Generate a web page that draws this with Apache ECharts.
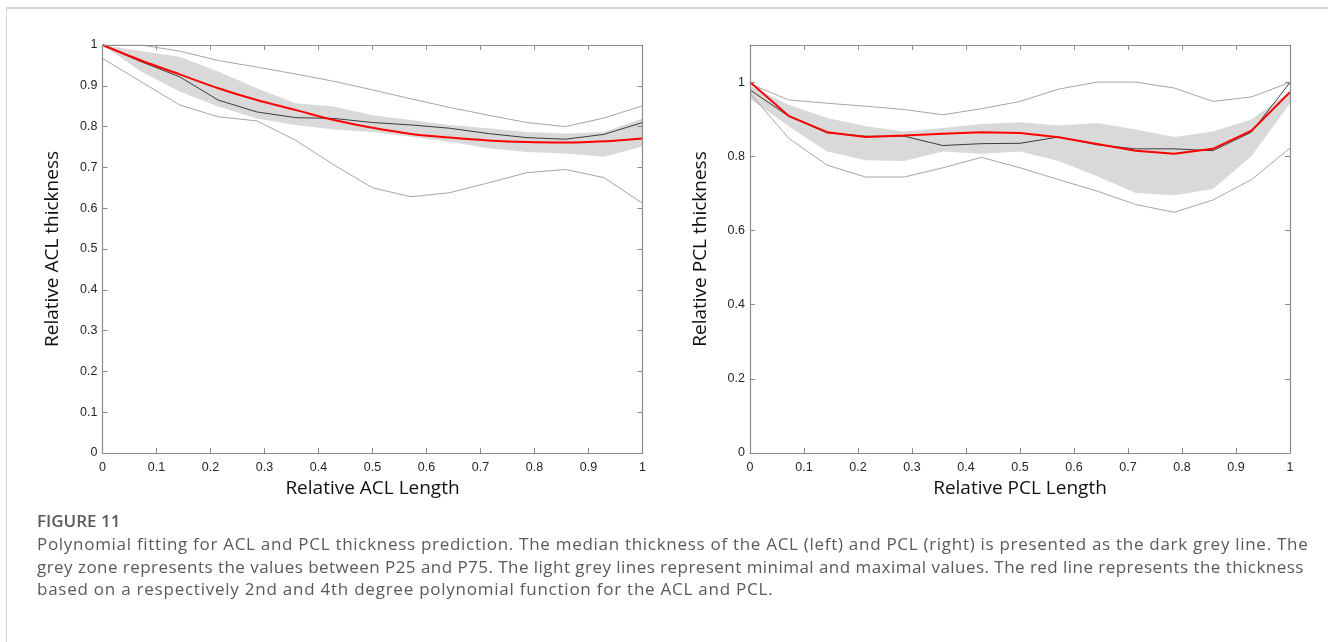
<html lang="en">
<head>
<meta charset="UTF-8">
<title>Figure 11</title>
<style>
    html, body { margin: 0; padding: 0; width: 1328px; height: 642px; background: #fff; overflow: hidden; }
    #frame { position: absolute; left: 6px; top: 7px; width: 1322px; height: 635px; border-top: 2px solid #d6d6d6; border-left: 1px solid #d6d6d6; }
    #container { position: absolute; left: 0; top: 0; width: 1328px; height: 642px; }
    #caption { position: absolute; left: 37px; top: 509px; font-family: "Open Sans", sans-serif; color: #5a5a5a; }
    #caption .fig { font-size: 17px; font-weight: 600; line-height: 24px; }
    #caption .txt { font-size: 17px; line-height: 22.5px; white-space: nowrap; }
    #caption .txt span { display: block; }
</style>
</head>
<body>
<div id="frame"></div>
<div id="container"></div>
<div id="caption">
    <div class="fig">FIGURE 11</div>
    <div class="txt">
        <span style="letter-spacing: 0.71px">Polynomial fitting for ACL and PCL thickness prediction. The median thickness of the ACL (left) and PCL (right) is presented as the dark grey line. The</span>
        <span style="letter-spacing: 0.46px">grey zone represents the values between P25 and P75. The light grey lines represent minimal and maximal values. The red line represents the thickness</span>
        <span style="letter-spacing: 0.76px">based on a respectively 2nd and 4th degree polynomial function for the ACL and PCL.</span>
    </div>
</div>
<script src="https://cdn.jsdelivr.net/npm/echarts@6/dist/echarts.min.js"></script>
<script>
    // relative length positions (15 sampling points)
    var xPos = [0, 0.0714, 0.1429, 0.2143, 0.2857, 0.3571, 0.4286, 0.5, 0.5714, 0.6429, 0.7143, 0.7857, 0.8571, 0.9286, 1];

    // ACL (left)
    var aclMax = [1.0, 1.0, 0.985, 0.962, 0.946, 0.929, 0.911, 0.89, 0.868, 0.847, 0.828, 0.81, 0.8, 0.821, 0.851];
    var aclMin = [0.967, 0.91, 0.853, 0.824, 0.814, 0.767, 0.706, 0.65, 0.628, 0.638, 0.662, 0.687, 0.695, 0.675, 0.612];
    var aclMed = [1.0, 0.959, 0.922, 0.865, 0.836, 0.822, 0.82, 0.81, 0.804, 0.796, 0.783, 0.773, 0.769, 0.781, 0.81];
    var aclP75 = [1.0, 0.985, 0.971, 0.935, 0.894, 0.857, 0.849, 0.828, 0.816, 0.804, 0.796, 0.787, 0.783, 0.787, 0.82];
    var aclP25 = [1.0, 0.935, 0.886, 0.849, 0.82, 0.804, 0.793, 0.787, 0.775, 0.763, 0.747, 0.738, 0.734, 0.726, 0.751];
    var aclFit = [1.0, 0.962, 0.928, 0.894, 0.865, 0.841, 0.816, 0.797, 0.782, 0.773, 0.766, 0.762, 0.761, 0.764, 0.771];

    // PCL (right)
    var pclMax = [0.995, 0.952, 0.943, 0.935, 0.926, 0.912, 0.928, 0.948, 0.981, 1.0, 1.0, 0.984, 0.948, 0.96, 0.999];
    var pclMin = [0.97, 0.849, 0.776, 0.744, 0.744, 0.769, 0.797, 0.769, 0.737, 0.706, 0.67, 0.649, 0.682, 0.737, 0.822];
    var pclMed = [0.979, 0.908, 0.863, 0.854, 0.854, 0.829, 0.834, 0.835, 0.852, 0.831, 0.82, 0.82, 0.815, 0.865, 0.999];
    var pclP75 = [0.99, 0.939, 0.903, 0.881, 0.867, 0.876, 0.887, 0.892, 0.883, 0.89, 0.872, 0.852, 0.867, 0.899, 0.975];
    var pclP25 = [0.955, 0.881, 0.813, 0.789, 0.787, 0.813, 0.807, 0.813, 0.787, 0.746, 0.701, 0.695, 0.712, 0.8, 0.943];
    var pclFit = [1.0, 0.909, 0.865, 0.852, 0.856, 0.861, 0.865, 0.863, 0.851, 0.833, 0.815, 0.807, 0.82, 0.869, 0.973];

    var boxColor = '#8c8c8c';
    var labelFont = { fontFamily: 'Liberation Sans', fontSize: 12.5, color: '#262626' };
    var nameFont = { fontFamily: 'Open Sans', fontSize: 19, color: '#111' };

    function pairs(ys) {
        return xPos.map(function (x, i) { return [x, ys[i]]; });
    }

    function xAx(grid, pos, name) {
        return {
            gridIndex: grid, type: 'value', position: pos, min: 0, max: 1, interval: 0.1, z: 10,
            name: name || '', nameLocation: 'middle', nameGap: 21, nameTextStyle: nameFont,
            axisLine: { show: true, onZero: false, lineStyle: { color: boxColor, width: 1.2 } },
            axisTick: { show: true, inside: true, length: 5, lineStyle: { color: boxColor } },
            axisLabel: Object.assign({ show: pos === 'bottom', margin: 8 }, labelFont),
            splitLine: { show: false }
        };
    }
    function yAx(grid, pos, max, interval, name) {
        return {
            gridIndex: grid, type: 'value', position: pos, min: 0, max: max, interval: interval, z: 10,
            name: name || '', nameLocation: 'middle', nameGap: 40, nameTextStyle: nameFont,
            axisLine: { show: true, onZero: false, lineStyle: { color: boxColor, width: 1.2 } },
            axisTick: { show: true, inside: true, length: 5, lineStyle: { color: boxColor } },
            axisLabel: Object.assign({ show: pos === 'left', margin: 5, showMaxLabel: max === 1 }, labelFont),
            splitLine: { show: false }
        };
    }

    // grey P25-P75 zone: P75 area filled grey, P25 area filled white on top of it
    function lines(xi, yi, p25, p75, mn, mx, med, fit, smoothFit) {
        var base = { type: 'line', xAxisIndex: xi, yAxisIndex: yi, showSymbol: false, silent: true };
        return [
            Object.assign({}, base, { name: 'P75', data: pairs(p75), lineStyle: { width: 0, opacity: 0 },
                areaStyle: { color: '#d9d9d9', opacity: 1 }, z: 1 }),
            Object.assign({}, base, { name: 'P25', data: pairs(p25), lineStyle: { width: 0, opacity: 0 },
                areaStyle: { color: '#ffffff', opacity: 1 }, z: 2 }),
            Object.assign({}, base, { name: 'min', data: pairs(mn), lineStyle: { color: '#a6a6a6', width: 1 }, z: 3 }),
            Object.assign({}, base, { name: 'max', data: pairs(mx), lineStyle: { color: '#a6a6a6', width: 1 }, z: 3 }),
            Object.assign({}, base, { name: 'median', data: pairs(med), lineStyle: { color: '#3c3c3c', width: 1 }, z: 4 }),
            Object.assign({}, base, { name: 'fit', data: pairs(fit), smooth: smoothFit ? 0.3 : false,
                lineStyle: { color: '#ff0000', width: 2 }, z: 5 })
        ];
    }

    var chart = echarts.init(document.getElementById('container'), null, { renderer: 'canvas' });
    var option = {
        animation: false,
        grid: [
            { left: 102.5, top: 45, width: 540, height: 408 },
            { left: 750, top: 45, width: 540, height: 408 }
        ],
        xAxis: [
            xAx(0, 'bottom', 'Relative ACL Length'),
            xAx(0, 'top'),
            xAx(1, 'bottom', 'Relative PCL Length'),
            xAx(1, 'top')
        ],
        yAxis: [
            yAx(0, 'left', 1, 0.1, 'Relative ACL thickness'),
            yAx(0, 'right', 1, 0.1),
            yAx(1, 'left', 1.1, 0.2, 'Relative PCL thickness'),
            yAx(1, 'right', 1.1, 0.2)
        ],
        series: [].concat(
            lines(0, 0, aclP25, aclP75, aclMin, aclMax, aclMed, aclFit, true),
            lines(2, 2, pclP25, pclP75, pclMin, pclMax, pclMed, pclFit, false)
        )
    };
    chart.setOption(option);
</script>
</body>
</html>
